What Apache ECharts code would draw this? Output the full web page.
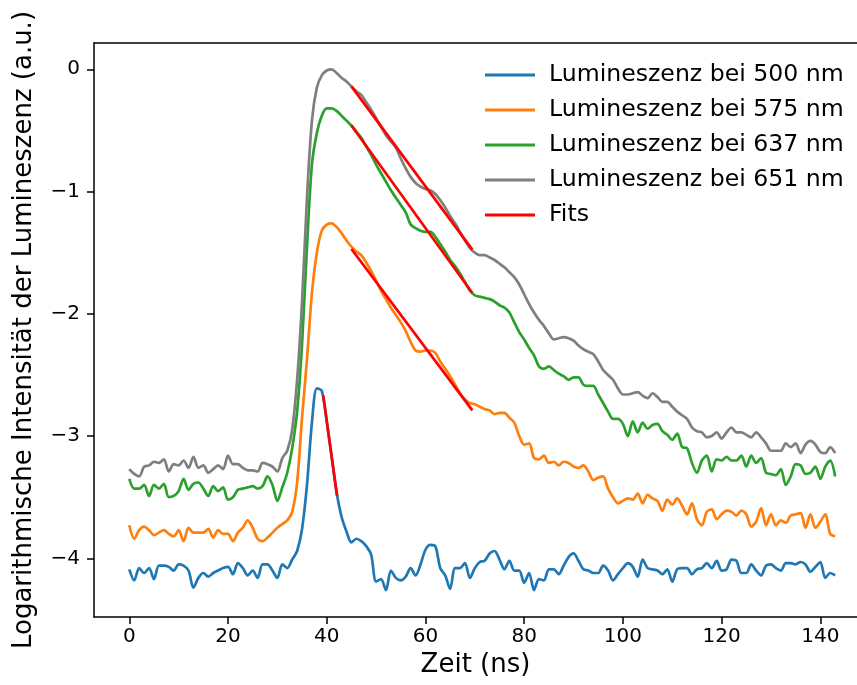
<!DOCTYPE html>
<html>
<head>
<meta charset="utf-8">
<script src="https://cdn.jsdelivr.net/npm/echarts@6/dist/echarts.min.js"></script>
<style>
  html, body { margin: 0; padding: 0; background: #fff; }
  #chart { width: 857px; height: 685px; }
</style>
</head>
<body>
<div id="chart"></div>
<script>
// Zeitachse in ns (Abtastung 1 ns)
const zeit = Array.from({ length: 144 }, (_, i) => i)

const lum500 = [
  -4.09, -4.18, -4.08, -4.12, -4.08, -4.17, -4.06, -4.06, -4.07, -4.10,
  -4.05, -4.06, -4.10, -4.24, -4.16, -4.12, -4.15, -4.12, -4.10, -4.08,
  -4.07, -4.13, -4.04, -4.08, -4.14, -4.10, -4.16, -4.05, -4.05, -4.10,
  -4.16, -4.05, -4.08, -4.01, -3.94, -3.76, -3.40, -2.89, -2.61, -2.63,
  -2.88, -3.17, -3.46, -3.66, -3.78, -3.87, -3.84, -3.86, -3.90, -3.97,
  -4.19, -4.17, -4.26, -4.10, -4.16, -4.18, -4.15, -4.08, -4.14, -4.05,
  -3.93, -3.89, -3.90, -4.08, -4.14, -4.25, -4.08, -4.08, -4.04, -4.16,
  -4.08, -4.03, -4.02, -3.96, -3.94, -4.01, -4.09, -4.02, -4.10, -4.10,
  -4.20, -4.12, -4.26, -4.17, -4.18, -4.09, -4.09, -4.13, -4.06, -3.99,
  -3.96, -4.02, -4.09, -4.10, -4.12, -4.12, -4.06, -4.10, -4.18, -4.13,
  -4.08, -4.04, -4.07, -4.15, -4.01, -4.08, -4.09, -4.10, -4.13, -4.09,
  -4.19, -4.09, -4.08, -4.08, -4.13, -4.09, -4.08, -4.04, -4.08, -4.02,
  -4.10, -4.09, -4.01, -4.02, -4.12, -4.12, -4.05, -4.10, -4.14, -4.06,
  -4.05, -4.08, -4.10, -4.04, -4.04, -4.05, -4.03, -4.05, -4.11, -4.07,
  -4.03, -4.16, -4.12, -4.14
]

const lum575 = [
  -3.73, -3.84, -3.77, -3.74, -3.77, -3.81, -3.79, -3.77, -3.80, -3.82,
  -3.77, -3.86, -3.75, -3.79, -3.79, -3.79, -3.76, -3.83, -3.77, -3.80,
  -3.80, -3.86, -3.79, -3.75, -3.69, -3.75, -3.84, -3.86, -3.83, -3.79,
  -3.75, -3.72, -3.69, -3.62, -3.38, -2.85, -2.37, -1.83, -1.50, -1.32,
  -1.27, -1.26, -1.29, -1.34, -1.40, -1.45, -1.49, -1.52, -1.58, -1.65,
  -1.73, -1.81, -1.88, -1.95, -2.01, -2.07, -2.14, -2.23, -2.30, -2.31,
  -2.30, -2.30, -2.32, -2.39, -2.45, -2.51, -2.58, -2.65, -2.70, -2.73,
  -2.74, -2.76, -2.78, -2.79, -2.82, -2.81, -2.81, -2.85, -2.89, -3.00,
  -3.07, -3.06, -3.18, -3.19, -3.16, -3.22, -3.21, -3.24, -3.21, -3.22,
  -3.25, -3.26, -3.24, -3.29, -3.36, -3.34, -3.33, -3.43, -3.50, -3.55,
  -3.53, -3.51, -3.52, -3.47, -3.55, -3.48, -3.51, -3.53, -3.61, -3.52,
  -3.56, -3.51, -3.57, -3.64, -3.55, -3.68, -3.73, -3.62, -3.60, -3.68,
  -3.64, -3.61, -3.62, -3.65, -3.61, -3.64, -3.74, -3.70, -3.59, -3.73,
  -3.64, -3.73, -3.69, -3.71, -3.65, -3.64, -3.63, -3.75, -3.64, -3.75,
  -3.70, -3.64, -3.80, -3.82
]

const lum637 = [
  -3.35, -3.43, -3.43, -3.40, -3.49, -3.40, -3.43, -3.39, -3.50, -3.49,
  -3.45, -3.35, -3.44, -3.39, -3.38, -3.43, -3.49, -3.41, -3.45, -3.42,
  -3.52, -3.50, -3.44, -3.43, -3.42, -3.41, -3.43, -3.41, -3.33, -3.40,
  -3.53, -3.42, -3.30, -3.10, -2.80, -2.25, -1.45, -0.78, -0.52, -0.38,
  -0.32, -0.32, -0.34, -0.38, -0.42, -0.46, -0.51, -0.56, -0.63, -0.70,
  -0.78, -0.85, -0.92, -0.99, -1.05, -1.11, -1.17, -1.27, -1.30, -1.32,
  -1.33, -1.33, -1.37, -1.43, -1.49, -1.56, -1.61, -1.67, -1.74, -1.81,
  -1.85, -1.86, -1.87, -1.88, -1.90, -1.93, -1.95, -1.99, -2.07, -2.15,
  -2.21, -2.28, -2.34, -2.43, -2.45, -2.43, -2.46, -2.49, -2.51, -2.54,
  -2.52, -2.52, -2.58, -2.59, -2.59, -2.66, -2.73, -2.80, -2.86, -2.86,
  -2.90, -3.00, -2.88, -2.97, -2.89, -2.94, -2.91, -2.90, -2.96, -2.99,
  -3.03, -2.98, -3.09, -3.10, -3.22, -3.30, -3.20, -3.16, -3.29, -3.19,
  -3.20, -3.17, -3.20, -3.20, -3.16, -3.25, -3.16, -3.22, -3.18, -3.30,
  -3.31, -3.32, -3.27, -3.40, -3.33, -3.23, -3.24, -3.31, -3.30, -3.25,
  -3.35, -3.25, -3.20, -3.33
]

const lum651 = [
  -3.27, -3.31, -3.33, -3.25, -3.24, -3.21, -3.22, -3.19, -3.29, -3.23,
  -3.24, -3.20, -3.26, -3.17, -3.26, -3.24, -3.30, -3.27, -3.24, -3.27,
  -3.16, -3.23, -3.23, -3.26, -3.28, -3.28, -3.29, -3.22, -3.23, -3.25,
  -3.29, -3.18, -3.12, -2.95, -2.54, -1.90, -1.05, -0.42, -0.15, -0.05,
  -0.01, 0.00, -0.03, -0.07, -0.10, -0.14, -0.18, -0.21, -0.27, -0.33,
  -0.40, -0.47, -0.54, -0.59, -0.64, -0.73, -0.81, -0.88, -0.93, -0.96,
  -0.98, -0.99, -1.02, -1.07, -1.13, -1.20, -1.26, -1.33, -1.40, -1.46,
  -1.50, -1.52, -1.52, -1.54, -1.56, -1.59, -1.62, -1.66, -1.70, -1.76,
  -1.84, -1.92, -1.99, -2.05, -2.10, -2.16, -2.21, -2.20, -2.19, -2.20,
  -2.22, -2.26, -2.29, -2.31, -2.33, -2.39, -2.46, -2.50, -2.54, -2.61,
  -2.66, -2.66, -2.65, -2.64, -2.67, -2.69, -2.65, -2.68, -2.72, -2.72,
  -2.76, -2.80, -2.83, -2.86, -2.93, -2.96, -2.97, -3.01, -3.00, -2.97,
  -3.02, -2.97, -2.93, -2.97, -2.97, -2.99, -3.01, -2.97, -3.01, -3.06,
  -3.12, -3.12, -3.12, -3.06, -3.09, -3.06, -3.14, -3.07, -3.04, -3.07,
  -3.13, -3.14, -3.09, -3.14
]

// Fits: [Startzeit, Startwert], [Endzeit, Endwert]
const fit500 = [[39.3, -2.67], [42.1, -3.49]]
const fit575 = [[45, -1.47], [69.5, -2.79]]
const fit637 = [[45, -0.46], [69.5, -1.83]]
const fit651 = [[45, -0.14], [69.5, -1.475]]

const xTicks = [0, 20, 40, 60, 80, 100, 120, 140]
const yTicks = [-4, -3, -2, -1, 0]

const names = [
  'Lumineszenz bei 500 nm',
  'Lumineszenz bei 575 nm',
  'Lumineszenz bei 637 nm',
  'Lumineszenz bei 651 nm',
  'Fits'
]
const colors = ['#1f77b4', '#ff7f0e', '#2ca02c', '#7f7f7f', '#ff0000']

const font = 'DejaVu Sans'
const xMin = -7.15
const xMax = 147.43
const pair = (ys) => zeit.map((t, i) => [t, ys[i]])

const lineSeries = (name, data, color, smooth) => ({
  name,
  type: 'line',
  data,
  showSymbol: false,
  symbol: 'none',
  smooth,
  color,
  lineStyle: { width: 2.7, color },
  emphasis: { disabled: true }
})

const spine = { show: true, onZero: false, lineStyle: { color: '#000', width: 1.5 } }

const chart = echarts.init(document.getElementById('chart'))

chart.setOption({
  animation: false,
  grid: {
    left: 94,
    top: 43,
    right: 0,
    height: 574
  },
  legend: {
    data: names,
    orient: 'vertical',
    left: 480,
    top: 58,
    icon: 'rect',
    itemWidth: 50,
    itemHeight: 3,
    itemGap: 11,
    textStyle: {
      fontFamily: font,
      fontSize: 23.6,
      lineHeight: 24,
      color: '#000',
      padding: [0, 0, 0, 9]
    }
  },
  xAxis: [
    {
      type: 'value',
      min: xMin,
      max: xMax,
      name: 'Zeit (ns)',
      nameLocation: 'middle',
      nameGap: 31,
      nameTextStyle: { fontFamily: font, fontSize: 26, color: '#000' },
      axisLine: spine,
      axisTick: {
        show: true,
        length: 7,
        customValues: xTicks,
        lineStyle: { color: '#000', width: 1.5 }
      },
      axisLabel: {
        customValues: xTicks,
        margin: 10,
        fontFamily: font,
        fontSize: 20,
        color: '#000'
      },
      splitLine: { show: false }
    },
    {
      // obere Achsenlinie
      type: 'value',
      position: 'top',
      min: xMin,
      max: xMax,
      axisLine: spine,
      axisTick: { show: false },
      axisLabel: { show: false },
      splitLine: { show: false }
    }
  ],
  yAxis: {
    type: 'value',
    min: -4.48,
    max: 0.215,
    name: 'Logarithmische Intensität der Lumineszenz (a.u.)',
    nameLocation: 'middle',
    nameGap: 57,
    nameRotate: 90,
    nameTextStyle: { fontFamily: font, fontSize: 26, color: '#000' },
    axisLine: spine,
    axisTick: {
      show: true,
      length: 7,
      customValues: yTicks,
      lineStyle: { color: '#000', width: 1.5 }
    },
    axisLabel: {
      customValues: yTicks,
      margin: 14,
      fontFamily: font,
      fontSize: 20,
      color: '#000',
      formatter: (v) => (v < 0 ? '\u2212' + Math.abs(v) : String(v))
    },
    splitLine: { show: false }
  },
  series: [
    lineSeries(names[0], pair(lum500), colors[0], 0.3),
    lineSeries(names[1], pair(lum575), colors[1], 0.3),
    lineSeries(names[2], pair(lum637), colors[2], 0.3),
    lineSeries(names[3], pair(lum651), colors[3], 0.3),
    lineSeries(names[4], fit500, colors[4], false),
    lineSeries(names[4], fit575, colors[4], false),
    lineSeries(names[4], fit637, colors[4], false),
    lineSeries(names[4], fit651, colors[4], false)
  ]
})
</script>
</body>
</html>
